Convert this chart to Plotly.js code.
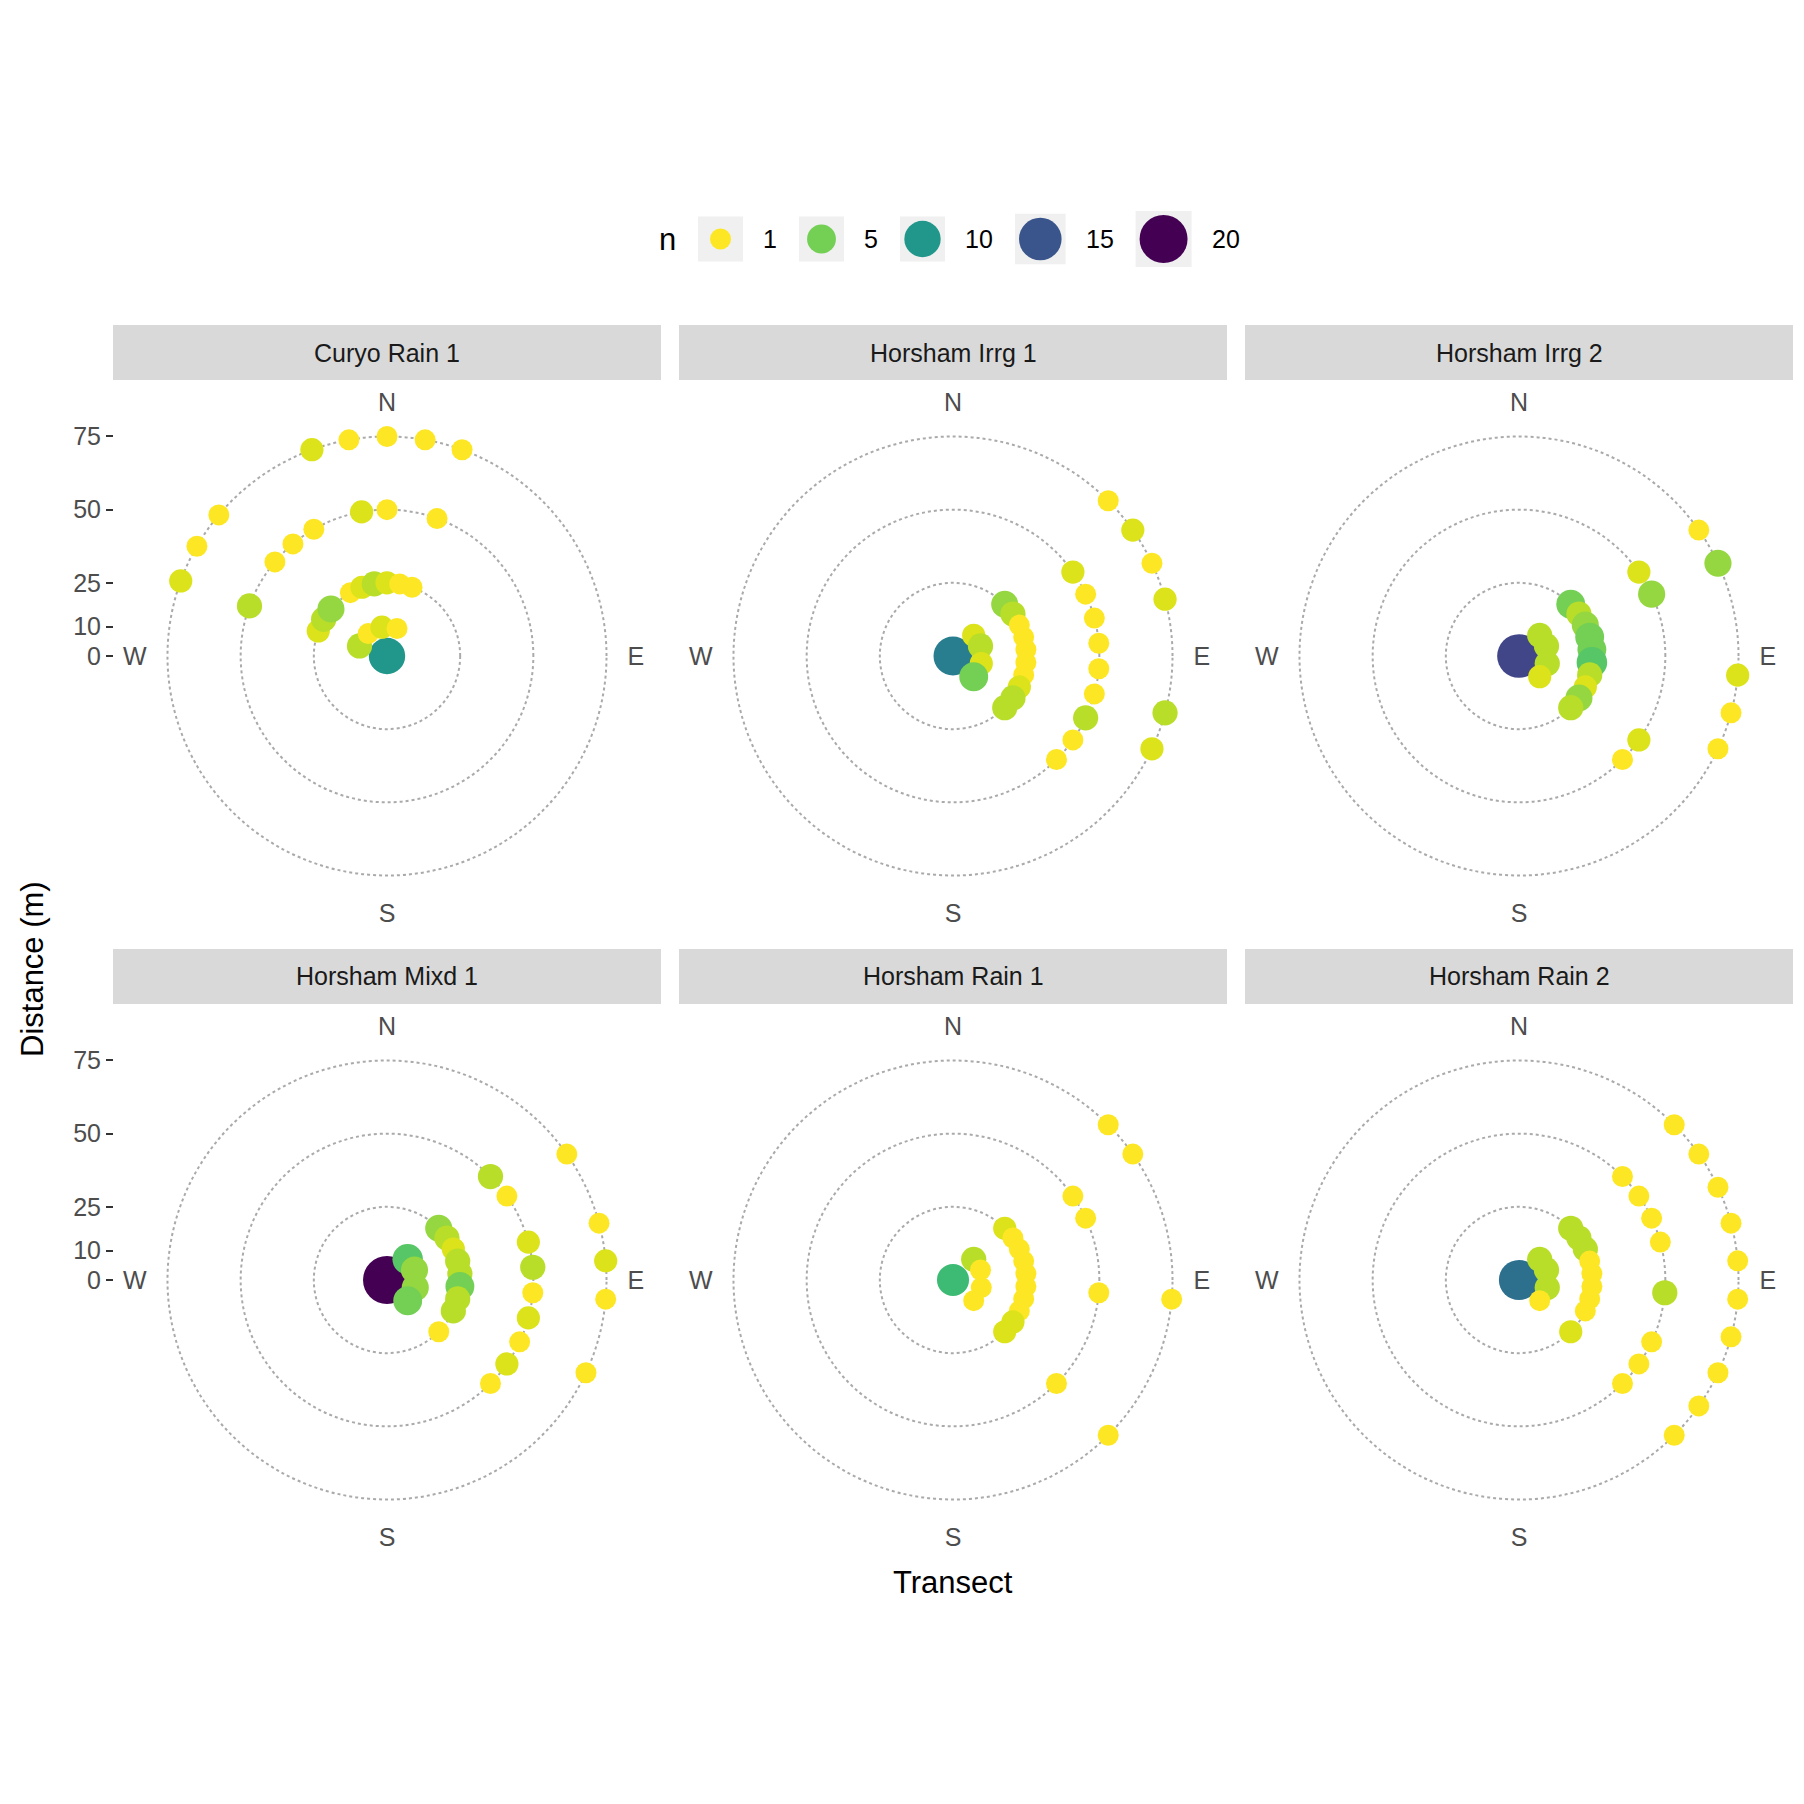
<!DOCTYPE html>
<html><head><meta charset="utf-8">
<script src="https://cdn.plot.ly/plotly-3.0.1.min.js"></script>
<style>body{margin:0;background:#fff}#plot{width:1804px;height:1804px}</style>
</head><body><div id="plot"></div>
<script>
// facet names
var sites = ["Curyo Rain 1", "Horsham Irrg 1", "Horsham Irrg 2", "Horsham Mixd 1", "Horsham Rain 1", "Horsham Rain 2"];

// transect angle (deg from N, clockwise), distance (m), count n
var ang1 = [0, 290,320,350,20, 290,300,310,330,340,350,0,10,20, 290,310,320,330,350,0,20, 290,300,310,340,350,0,10,20];
var dist1 = [0, 10,10,10,10, 25,25,25,25,25,25,25,25,25, 50,50,50,50,50,50,50, 75,75,75,75,75,75,75,75];
var n1 = [10, 3,1,2,1, 2,3,4,1,2,3,2,1,1, 3,1,1,1,2,1,1, 2,1,1,2,1,1,1,1];

var ang2 = [0, 45,70,105,135, 45,55,65,75,85,95,105,115,125,135, 55,65,75,85,95,105,115,125,135, 45,55,65,75,105,115];
var dist2 = [0, 10,10,10,10, 25,25,25,25,25,25,25,25,25,25, 50,50,50,50,50,50,50,50,50, 75,75,75,75,75,75];
var n2 = [12, 2,3,2,5, 4,3,1,1,1,1,1,2,3,3, 2,1,1,1,1,1,3,1,1, 1,2,1,2,3,2];

var ang3 = [0, 45,70,105,135, 45,55,65,75,85,95,105,115,125,135, 55,65,125,135, 55,65,95,105,115];
var dist3 = [0, 10,10,10,10, 25,25,25,25,25,25,25,25,25,25, 50,50,50,50, 75,75,75,75,75];
var n3 = [16, 3,3,3,2, 5,3,4,5,5,6,3,2,4,3, 2,4,2,1, 1,4,2,1,1];

var ang4 = [0, 45,70,105,135, 45,55,65,75,85,95,105,115,135, 45,55,75,85,95,105,115,125,135, 55,75,85,95,115];
var dist4 = [0, 10,10,10,10, 25,25,25,25,25,25,25,25,25, 50,50,50,50,50,50,50,50,50, 75,75,75,75,75];
var n4 = [20, 6,4,4,5, 4,3,2,3,3,5,3,3,1, 3,1,2,3,1,2,1,2,1, 1,1,2,1,1];

var ang5 = [0, 45,70,105,135, 45,55,65,75,85,95,105,115,125,135, 55,65,95,135, 45,55,95,135];
var dist5 = [0, 10,10,10,10, 25,25,25,25,25,25,25,25,25,25, 50,50,50,50, 75,75,75,75];
var n5 = [7, 3,1,1,1, 2,1,1,1,1,1,1,1,2,2, 1,1,1,1, 1,1,1,1];

var ang6 = [0, 45,70,105,135, 45,55,65,75,85,95,105,115,135, 45,55,65,75,95,115,125,135, 45,55,65,75,85,95,105,115,125,135];
var dist6 = [0, 10,10,10,10, 25,25,25,25,25,25,25,25,25, 50,50,50,50,50,50,50,50, 75,75,75,75,75,75,75,75,75,75];
var n6 = [13, 3,3,3,1, 3,3,3,1,1,1,1,1,2, 1,1,1,1,3,1,1,1, 1,1,1,1,1,1,1,1,1,1];

var legendN = [1, 5, 10, 15, 20];
var yTicks = [0, 10, 25, 50, 75];
var dirTicks = ["N", "E", "S", "W"];

var angs = [ang1, ang2, ang3, ang4, ang5, ang6];
var dists = [dist1, dist2, dist3, dist4, dist5, dist6];
var ns = [n1, n2, n3, n4, n5, n6];

var W = 1804, R = 240, RMAX = 82;
var colX = [387, 953, 1519];
var rowY = [656, 1280];
var font = "Liberation Sans, Arial, sans-serif";

function sz(n){ return Math.sqrt(343 + 98 * n); }
var cscale = "Viridis";

var traces = [];
var layout = {
  width: W, height: W, paper_bgcolor: "#fff", plot_bgcolor: "rgba(0,0,0,0)", showlegend: false,
  margin: {l: 0, r: 0, t: 0, b: 0},
  font: {family: font},
  shapes: [], annotations: []
};

for (var i = 0; i < 6; i++) {
  var cx = colX[i % 3], cy = rowY[Math.floor(i / 3)];
  var key = i == 0 ? "polar" : "polar" + (i + 1);
  traces.push({
    type: "scatterpolar", subplot: key, mode: "markers",
    theta: angs[i], r: dists[i],
    marker: {size: ns[i].map(sz), color: ns[i], colorscale: cscale, reversescale: true, cmin: 1, cmax: 20, opacity: 1, line: {width: 0}},
    hoverinfo: "skip"
  });
  layout[key] = {
    domain: {x: [(cx - R) / W, (cx + R) / W], y: [(W - cy - R) / W, (W - cy + R) / W]},
    bgcolor: "rgba(0,0,0,0)",
    radialaxis: {range: [0, RMAX], tickvals: [25, 50, 75, RMAX - 0.1], showticklabels: false, ticks: "", showline: false,
      gridcolor: "#aaaaaa", griddash: "dot", gridwidth: 2},
    angularaxis: {rotation: 90, direction: "clockwise", tickmode: "array", tickvals: [0, 90, 180, 270], ticktext: dirTicks,
      showgrid: false, showline: false, ticks: "", tickfont: {size: 25, color: "#4d4d4d"}}
  };
  var sx0 = cx - 274, sx1 = cx + 274;
  var sy0 = cy - 331, sy1 = cy - 276;
  layout.shapes.push({type: "rect", xref: "paper", yref: "paper", x0: sx0 / W, x1: sx1 / W, y0: 1 - sy1 / W, y1: 1 - sy0 / W,
    fillcolor: "#d9d9d9", line: {width: 0}, layer: "below"});
  layout.annotations.push({xref: "paper", yref: "paper", x: cx / W, y: 1 - (sy0 + sy1) / 2 / W, xanchor: "center", yanchor: "middle",
    text: sites[i], showarrow: false, font: {size: 25, color: "#1a1a1a"}});
}

// left distance axes, one per row
for (var r = 0; r < 2; r++) {
  var cy = rowY[r];
  var xa = "xaxis" + (r + 1), ya = "yaxis" + (r + 1);
  layout[xa] = {visible: false, domain: [113 / W, 661 / W], range: [0, 1], anchor: "y" + (r + 1)};
  layout[ya] = {domain: [(W - cy - R) / W, (W - cy + R) / W], range: [-RMAX, RMAX], anchor: "free", position: 113 / W,
    tickvals: yTicks, ticks: "outside", ticklen: 7, tickwidth: 2, tickcolor: "#333", showgrid: false, zeroline: false,
    showline: false, tickfont: {size: 25, color: "#4d4d4d"}, fixedrange: true};
  traces.push({type: "scatter", mode: "markers", x: [], y: [], xaxis: "x" + (r + 1), yaxis: "y" + (r + 1)});
}

// manual legend on a pixel-space overlay axis
layout.xaxis3 = {visible: false, domain: [0, 1], range: [0, W], anchor: "y3"};
layout.yaxis3 = {visible: false, domain: [0, 1], range: [W, 0], anchor: "x3"};
var legY = 239, lx = 698, lxs = [];
for (var k = 0; k < legendN.length; k++) {
  var box = Math.max(45, sz(legendN[k]) + 8);
  lxs.push(lx + box / 2);
  layout.shapes.push({type: "rect", xref: "x3", yref: "y3", x0: lx, x1: lx + box, y0: legY - box / 2, y1: legY + box / 2,
    fillcolor: "#f0f0f0", line: {width: 0}, layer: "below"});
  layout.annotations.push({xref: "x3", yref: "y3", x: lx + box + 18, y: legY, xanchor: "left", text: String(legendN[k]),
    showarrow: false, font: {size: 25, color: "#000"}});
  lx += box + 18 + (legendN[k] < 10 ? 38 : 52);
}
traces.push({type: "scatter", mode: "markers", x: lxs, y: legendN.map(function(){ return legY; }), xaxis: "x3", yaxis: "y3",
  marker: {size: legendN.map(sz), color: legendN, colorscale: cscale, reversescale: true, cmin: 1, cmax: 20, opacity: 1, line: {width: 0}},
  hoverinfo: "skip"});
layout.annotations.push({xref: "x3", yref: "y3", x: 678, y: legY, xanchor: "right", text: "n", showarrow: false,
  font: {size: 31, color: "#000"}});

// axis titles
layout.annotations.push({xref: "paper", yref: "paper", x: 953 / W, y: 1 - 1602 / W, xanchor: "center", text: "Transect",
  showarrow: false, font: {size: 31, color: "#000"}});
layout.annotations.push({xref: "paper", yref: "paper", x: 32 / W, y: 1 - 969 / W, xanchor: "center", yanchor: "middle",
  text: "Distance (m)", textangle: -90, showarrow: false, font: {size: 31, color: "#000"}});

Plotly.newPlot("plot", traces, layout, {staticPlot: true});
</script></body></html>
